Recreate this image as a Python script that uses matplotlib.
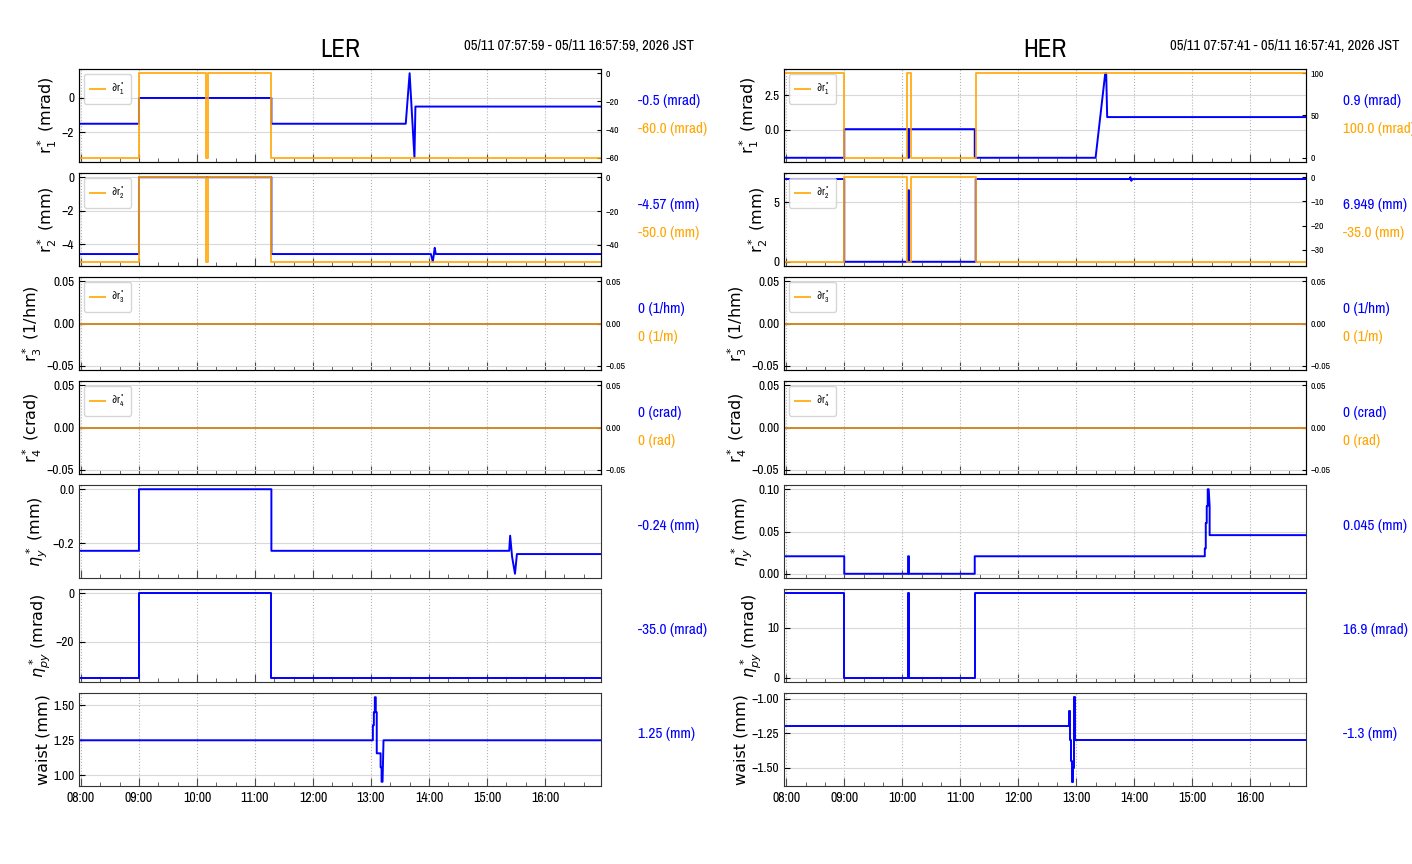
import matplotlib

matplotlib.use('Agg')

import logging

import matplotlib.pyplot as plt
import matplotlib.dates as mdates
import pandas as pd

logging.getLogger('matplotlib.font_manager').setLevel(logging.ERROR)

DAY = '2026-05-11 '
NARROW = ['Liberation Sans Narrow', 'Archivo Narrow', 'PT Sans Narrow',
          'Roboto Condensed', 'DejaVu Sans']
BLUE = '#0000ff'
ORANGE = '#ffa500'

YLABELS = ['r$_1^*$ (mrad)', 'r$_2^*$ (mm)', 'r$_3^*$ (1/hm)', 'r$_4^*$ (crad)',
           r'$\eta_y^*$ (mm)', r'$\eta_{py}^*$ (mrad)', 'waist (mm)']
LEGENDS = [r'$\mathregular{\partial r_1^*}$', r'$\mathregular{\partial r_2^*}$',
           r'$\mathregular{\partial r_3^*}$', r'$\mathregular{\partial r_4^*}$']

# ---------------- LER ----------------
LER_SPAN = ['07:57:59', '16:57:59']
LER_WINDOW = '05/11 07:57:59 - 05/11 16:57:59, 2026 JST'

ler_r1_t = ['07:58', '09:00', '09:00', '11:17', '11:17', '13:36', '13:40', '13:45',
            '13:46', '16:58']
ler_r1 = [-1.5, -1.5, 0.0, 0.0, -1.5, -1.5, 1.44, -3.48, -0.5, -0.5]
ler_dr1_t = ['07:58', '09:00', '09:00', '10:09', '10:09', '10:11', '10:11', '11:17',
             '11:17', '16:58']
ler_dr1 = [-60, -60, 0, 0, -60, -60, 0, 0, -60, -60]

ler_r2_t = ['07:58', '09:00', '09:00', '11:17', '11:17', '14:02', '14:04', '14:06',
            '14:07', '16:58']
ler_r2 = [-4.57, -4.57, 0.0, 0.0, -4.57, -4.57, -5.03, -4.2, -4.57, -4.57]
ler_dr2_t = ler_dr1_t
ler_dr2 = [-50, -50, 0, 0, -50, -50, 0, 0, -50, -50]

ler_r3_t = ['07:58', '16:58']
ler_r3 = [0.0, 0.0]
ler_dr3 = [0.0, 0.0]
ler_r4 = [0.0, 0.0]
ler_dr4 = [0.0, 0.0]

ler_eta_t = ['07:58', '09:00', '09:00', '11:17', '11:17', '15:23', '15:24', '15:26',
             '15:29', '15:31', '16:58']
ler_eta = [-0.228, -0.228, 0.0, 0.0, -0.228, -0.228, -0.172, -0.25, -0.313, -0.24,
           -0.24]
ler_etap_t = ['07:58', '09:00', '09:00', '11:17', '11:17', '16:58']
ler_etap = [-34.9, -34.9, 0.0, 0.0, -34.9, -34.9]

ler_waist_t = ['07:58', '13:02', '13:02', '13:03', '13:03', '13:04', '13:04', '13:05',
               '13:05', '13:06', '13:06', '13:10', '13:10', '13:11', '13:11', '13:12',
               '13:13', '16:58']
ler_waist = [1.25, 1.25, 1.357, 1.357, 1.45, 1.45, 1.557, 1.557, 1.45, 1.45, 1.157,
             1.157, 1.057, 1.057, 0.954, 0.954, 1.25, 1.25]

ler_blue_text = ['-0.5 (mrad)', '-4.57 (mm)', '0 (1/hm)', '0 (crad)', '-0.24 (mm)',
                 '-35.0 (mrad)', '1.25 (mm)']
ler_orange_text = ['-60.0 (mrad)', '-50.0 (mm)', '0 (1/m)', '0 (rad)']
ler_yticks = [[-2, 0], [-4, -2, 0], [-0.05, 0, 0.05], [-0.05, 0, 0.05], [-0.2, 0.0],
              [-20, 0], [1.0, 1.25, 1.5]]
ler_rticks = [[-60, -40, -20, 0], [-40, -20, 0], [-0.05, 0, 0.05], [-0.05, 0, 0.05]]

# ---------------- HER ----------------
HER_SPAN = ['07:57:41', '16:57:41']
HER_WINDOW = '05/11 07:57:41 - 05/11 16:57:41, 2026 JST'

her_r1_t = ['07:57:41', '09:00', '09:00', '10:06', '10:06', '10:07', '10:07', '11:15',
            '11:15', '13:20', '13:30', '13:31', '13:32', '16:57:41']
her_r1 = [-2.03, -2.03, 0.05, 0.05, -2.03, -2.03, 0.05, 0.05, -2.03, -2.03, 4.12, 4.12,
          0.93, 0.93]
her_dr1_t = ['07:57:41', '09:00', '09:00', '10:05', '10:05', '10:09', '10:09', '11:16',
             '11:16', '16:57:41']
her_dr1 = [100, 100, 0, 0, 100, 100, 0, 0, 100, 100]

her_r2_t = ['07:57:41', '09:00', '09:00', '10:06', '10:06', '10:07', '10:07', '11:16',
            '11:16', '13:55', '13:56', '13:57', '13:58', '16:57:41']
her_r2 = [6.949, 6.949, 0.0, 0.0, 6.0, 6.0, 0.0, 0.0, 6.949, 6.949, 7.1, 6.8, 6.949,
          6.949]
her_dr2_t = her_dr1_t
her_dr2 = [-35, -35, 0, 0, -35, -35, 0, 0, -35, -35]

her_r3_t = ['07:57:41', '16:57:41']
her_r3 = [0.0, 0.0]
her_dr3 = [0.0, 0.0]
her_r4 = [0.0, 0.0]
her_dr4 = [0.0, 0.0]

her_eta_t = ['07:57:41', '09:00', '09:00', '10:06', '10:06', '10:07', '10:07', '11:15',
             '11:15', '15:13', '15:13', '15:14', '15:14', '15:15', '15:15', '15:16',
             '15:16', '15:17', '15:18', '15:18', '16:57:41']
her_eta = [0.0207, 0.0207, 0.0, 0.0, 0.0207, 0.0207, 0.0, 0.0, 0.0207, 0.0207, 0.03,
           0.03, 0.06, 0.06, 0.08, 0.08, 0.10, 0.10, 0.08, 0.0457, 0.0457]
her_etap_t = ['07:57:41', '09:00', '09:00', '10:06', '10:06', '10:07', '10:07', '11:15',
              '11:15', '16:57:41']
her_etap = [16.9, 16.9, 0.0, 0.0, 16.9, 16.9, 0.0, 0.0, 16.9, 16.9]

her_waist_t = ['07:57:41', '12:53', '12:53', '12:54', '12:54', '12:55', '12:55',
               '12:56', '12:56', '12:57', '12:57', '12:58', '12:58', '12:59', '12:59',
               '16:57:41']
her_waist = [-1.196, -1.196, -1.09, -1.09, -1.3, -1.3, -1.45, -1.45, -1.6, -1.6, -1.5,
             -1.5, -0.99, -0.99, -1.296, -1.296]

her_blue_text = ['0.9 (mrad)', '6.949 (mm)', '0 (1/hm)', '0 (crad)', '0.045 (mm)',
                 '16.9 (mrad)', '-1.3 (mm)']
her_orange_text = ['100.0 (mrad)', '-35.0 (mm)', '0 (1/m)', '0 (rad)']
her_yticks = [[0.0, 2.5], [0, 5], [-0.05, 0, 0.05], [-0.05, 0, 0.05],
              [0.0, 0.05, 0.10], [0, 10], [-1.5, -1.25, -1.0]]
her_rticks = [[0, 50, 100], [-30, -20, -10, 0], [-0.05, 0, 0.05], [-0.05, 0, 0.05]]


def ts(times):
    return pd.to_datetime([DAY + t for t in times], format='mixed')


def ring_panels(r1t, r1, d1t, d1, r2t, r2, d2t, d2, r3t, r3, d3, r4, d4,
                et, eta, ept, etap, wt, waist):
    return [
        (r1t, r1, d1t, d1),
        (r2t, r2, d2t, d2),
        (r3t, r3, r3t, d3),
        (r3t, r4, r3t, d4),
        (et, eta, None, None),
        (ept, etap, None, None),
        (wt, waist, None, None),
    ]


RINGS = [
    dict(name='LER', span=LER_SPAN, window=LER_WINDOW, left=79,
         panels=ring_panels(ler_r1_t, ler_r1, ler_dr1_t, ler_dr1, ler_r2_t, ler_r2,
                            ler_dr2_t, ler_dr2, ler_r3_t, ler_r3, ler_dr3, ler_r4,
                            ler_dr4, ler_eta_t, ler_eta, ler_etap_t, ler_etap,
                            ler_waist_t, ler_waist),
         blue=ler_blue_text, orange=ler_orange_text, yticks=ler_yticks,
         rticks=ler_rticks),
    dict(name='HER', span=HER_SPAN, window=HER_WINDOW, left=784,
         panels=ring_panels(her_r1_t, her_r1, her_dr1_t, her_dr1, her_r2_t, her_r2,
                            her_dr2_t, her_dr2, her_r3_t, her_r3, her_dr3, her_r4,
                            her_dr4, her_eta_t, her_eta, her_etap_t, her_etap,
                            her_waist_t, her_waist),
         blue=her_blue_text, orange=her_orange_text, yticks=her_yticks,
         rticks=her_rticks),
]

W, H = 1412, 864
AX_W, AX_H, ROW_TOP, ROW_STEP = 522, 93, 69, 104

fig = plt.figure(figsize=(W / 100, H / 100), dpi=100)

for ring in RINGS:
    x0, x1 = ts(ring['span'])
    for row, (bt, bv, ot, ov) in enumerate(ring['panels']):
        top = ROW_TOP + row * ROW_STEP
        ax = fig.add_axes([ring['left'] / W, 1 - (top + AX_H) / H, AX_W / W, AX_H / H])
        ax.plot(ts(bt), bv, color=BLUE, lw=1.4)
        ax.set_xlim(x0, x1)
        ax.set_yticks(ring['yticks'][row])
        ax.grid(True, axis='x', ls=':', color='0.7', lw=0.8)
        ax.grid(True, axis='y', ls='-', color='0.85', lw=0.8)
        ax.xaxis.set_major_locator(mdates.HourLocator())
        ax.xaxis.set_minor_locator(mdates.MinuteLocator(byminute=[20, 40]))
        ax.xaxis.set_major_formatter(mdates.DateFormatter('%H:%M'))
        ax.tick_params(axis='both', which='both', direction='in')
        ax.tick_params(axis='x', which='major', length=6, color='0.3')
        ax.tick_params(axis='x', which='minor', length=3, color='0.3')
        ax.tick_params(axis='y', length=4, labelsize=9.5)
        for lab in ax.get_yticklabels():
            lab.set_family(NARROW)
        if row < 6:
            ax.tick_params(axis='x', labelbottom=False)
        else:
            ax.tick_params(axis='x', labelsize=10)
            for lab in ax.get_xticklabels():
                lab.set_family(NARROW)
        ax.set_ylabel(YLABELS[row], fontsize=11.5, family='DejaVu Sans', labelpad=2)
        for sp in ax.spines.values():
            sp.set_color('0.2')

        blue_y = 0.655 if ot is not None else 0.56
        ax.text(1.071, blue_y, ring['blue'][row], transform=ax.transAxes, color=BLUE,
                fontsize=11, family=NARROW, va='center', ha='left')

        if ot is not None:
            ax2 = ax.twinx()
            ax2.plot(ts(ot), ov, color=ORANGE, lw=1.4, alpha=0.85,
                     label=LEGENDS[row])
            ax2.set_xlim(x0, x1)
            ax2.set_yticks(ring['rticks'][row])
            ax2.tick_params(axis='y', direction='in', labelsize=7, length=3)
            for lab in ax2.get_yticklabels():
                lab.set_family(NARROW)
            ax2.legend(loc='upper left', handlelength=1.4, handletextpad=0.6,
                       prop={'family': NARROW, 'size': 7.5}, borderpad=0.6)
            ax.text(1.071, 0.355, ring['orange'][row], transform=ax.transAxes,
                    color=ORANGE, fontsize=11, family=NARROW, va='center', ha='left')

        if row == 0:
            ax.text(0.5, 1.205, ring['name'], transform=ax.transAxes, fontsize=18,
                    family=NARROW, ha='center', va='center')
            ax.text(1.178, 1.247, ring['window'], transform=ax.transAxes, fontsize=10.5,
                    family=NARROW, ha='right', va='center')

fig.savefig('out.png', dpi=100)
